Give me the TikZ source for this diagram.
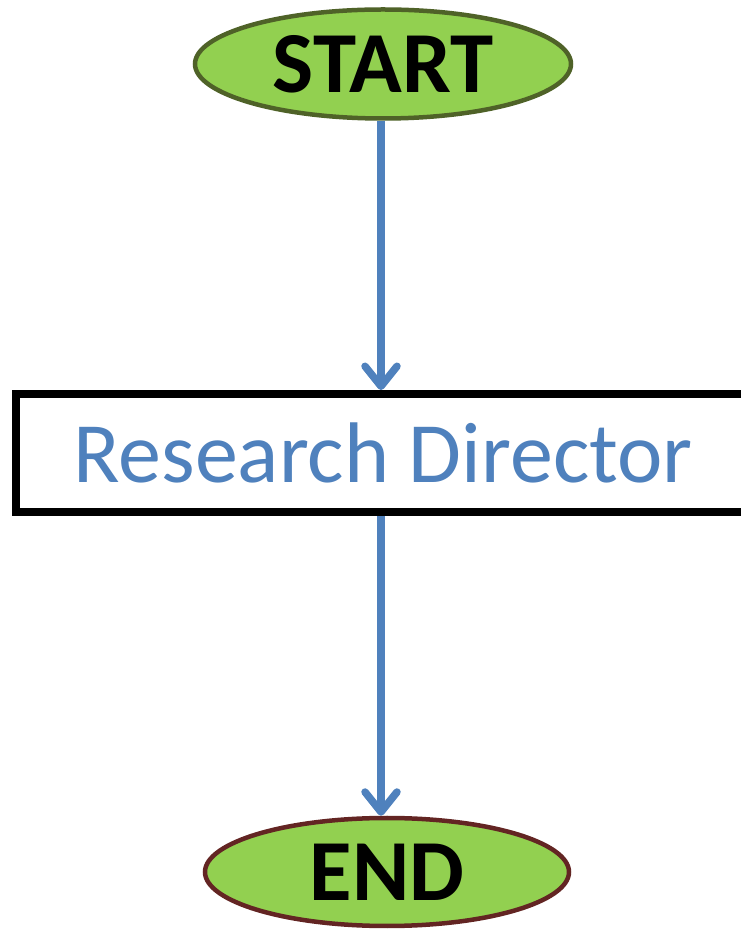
\documentclass[tikz,border=0pt]{standalone}
\usepackage{fontspec}
\setmainfont{Carlito}
\usetikzlibrary{shapes.geometric,arrows.meta}
\definecolor{fillgreen}{HTML}{92D050}
\definecolor{olive}{HTML}{4F6228}
\definecolor{brownred}{HTML}{632523}
\definecolor{flowblue}{HTML}{4F81BD}
\tikzset{
  terminal/.style={ellipse, fill=fillgreen, line width=4.5pt, inner sep=0pt,
    font=\fontsize{87}{87}\selectfont\bfseries},
  procbox/.style={rectangle, draw=black, line width=8pt, fill=white, inner sep=0pt,
    minimum width=734pt, minimum height=118pt, text=flowblue,
    font=\fontsize{86}{86}\selectfont},
  flow/.style={draw=flowblue, line width=7.5pt,
    -{Straight Barb[length=20pt,width=32pt,round]}}
}
\begin{document}
\begin{tikzpicture}[x=1pt,y=1pt]
\useasboundingbox (0,0) rectangle (741,930);
\clip (0,0) rectangle (741,930);
\node[terminal, draw=olive, minimum width=376pt, minimum height=109pt] (start) at (383,866) {START};
\node[procbox] (dir) at (383,477) {Research Director};
\node[terminal, draw=brownred, minimum width=364pt, minimum height=108pt] (end) at (387,58) {END};
\coordinate (ax) at (381,0);
\draw[flow] (start.south -| ax) -- (dir.north -| ax);
\draw[flow] (dir.south -| ax) -- (end.north -| ax);
\end{tikzpicture}
\end{document}
